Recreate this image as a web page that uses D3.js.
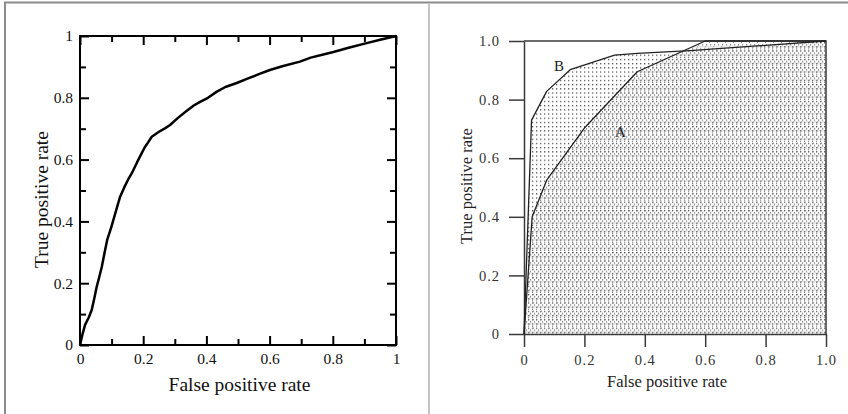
<!DOCTYPE html>
<html>
<head>
<meta charset="utf-8">
<script src="https://cdnjs.cloudflare.com/ajax/libs/d3/7.8.5/d3.min.js"></script>
<style>
  body { margin: 0; background: #fff; }
  svg { display: block; }
  text { font-family: "Liberation Serif", "Times New Roman", serif; }
</style>
</head>
<body>
<div class="chart"></div>
<script>
// ------------------------------------------------------------------------------------------------------------------
// data
var tick_values = [0, 0.2, 0.4, 0.6, 0.8, 1];
var minor_values = [0.1, 0.3, 0.5, 0.7, 0.9];
var left_tick_labels = ["0", "0.2", "0.4", "0.6", "0.8", "1"];
var right_tick_labels = ["0", "0.2", "0.4", "0.6", "0.8", "1.0"];

// left panel : single ROC curve (false positive rate, true positive rate)
var roc_fpr = [0, 0.008, 0.016, 0.028, 0.037, 0.045, 0.053, 0.061, 0.069, 0.078, 0.086, 0.094, 0.1, 0.11, 0.121,
               0.127, 0.14, 0.152, 0.164, 0.18, 0.195, 0.205, 0.215, 0.227, 0.25, 0.27, 0.285, 0.31, 0.338, 0.36,
               0.38, 0.405, 0.433, 0.46, 0.496, 0.53, 0.57, 0.601, 0.64, 0.696, 0.73, 0.77, 0.802, 0.85, 0.907,
               0.95, 1];
var roc_tpr = [0, 0.035, 0.065, 0.09, 0.113, 0.15, 0.189, 0.22, 0.253, 0.3, 0.34, 0.365, 0.385, 0.42, 0.459,
               0.48, 0.51, 0.535, 0.556, 0.59, 0.62, 0.64, 0.655, 0.674, 0.69, 0.702, 0.712, 0.735, 0.758, 0.775,
               0.787, 0.8, 0.82, 0.835, 0.848, 0.862, 0.878, 0.89, 0.902, 0.917, 0.93, 0.94, 0.948, 0.962, 0.977,
               0.988, 1];

// right panel : curves A and B
var a_fpr = [0, 0.027, 0.075, 0.2, 0.375, 0.6, 1];
var a_tpr = [0, 0.40, 0.525, 0.703, 0.895, 1.0, 1.0];
var b_fpr = [0, 0.025, 0.075, 0.153, 0.3, 0.375, 0.55, 1];
var b_tpr = [0, 0.73, 0.828, 0.902, 0.952, 0.958, 0.967, 1];

function zip(xs, ys) { return xs.map(function(d, i) { return {x: d, y: ys[i]}; }); }

var svg = d3.select(".chart").append("svg")
            .attr("width", 848)
            .attr("height", 414);

// ------------------------------------------------------------------------------------------------------------------
// page frame
svg.append("line").attr("x1", 4).attr("x2", 848).attr("y1", 2.5).attr("y2", 2.5)
   .attr("stroke", "#8c8c8c").attr("stroke-width", 2);
svg.append("line").attr("x1", 5).attr("x2", 5).attr("y1", 2).attr("y2", 414)
   .attr("stroke", "#8c8c8c").attr("stroke-width", 2);
svg.append("line").attr("x1", 429).attr("x2", 429).attr("y1", 3).attr("y2", 414)
   .attr("stroke", "#c4c4c4").attr("stroke-width", 2);

// ------------------------------------------------------------------------------------------------------------------
// left panel
function generate_left()
{
    var x = d3.scaleLinear().domain([0, 1]).range([80, 396]);
    var y = d3.scaleLinear().domain([0, 1]).range([345, 36]);
    var g = svg.append("g");

    function style_axis(sel) {
        sel.select(".domain").remove();
        sel.selectAll(".tick line").attr("stroke", "#000").attr("stroke-width", 2);
        sel.selectAll("text").attr("fill", "#111").style("font-size", "15.5px")
           .style("font-family", "'Liberation Serif', serif");
    }

    // inward major + minor ticks on all four sides
    [["bottom", y(0)], ["top", y(1)]].forEach(function(s) {
        var maj = (s[0] == "bottom" ? d3.axisBottom(x) : d3.axisTop(x)).tickValues(tick_values).tickSize(-9);
        var mnr = (s[0] == "bottom" ? d3.axisBottom(x) : d3.axisTop(x)).tickValues(minor_values).tickSize(-6).tickFormat("");
        if (s[0] == "bottom") maj.tickPadding(8).tickFormat(function(d, i) { return left_tick_labels[i]; });
        else maj.tickFormat("");
        g.append("g").attr("transform", "translate(0," + s[1] + ")").call(maj).call(style_axis);
        g.append("g").attr("transform", "translate(0," + s[1] + ")").call(mnr).call(style_axis);
    });
    [["left", x(0)], ["right", x(1)]].forEach(function(s) {
        var maj = (s[0] == "left" ? d3.axisLeft(y) : d3.axisRight(y)).tickValues(tick_values).tickSize(-9);
        var mnr = (s[0] == "left" ? d3.axisLeft(y) : d3.axisRight(y)).tickValues(minor_values).tickSize(-6).tickFormat("");
        if (s[0] == "left") maj.tickPadding(7).tickFormat(function(d, i) { return left_tick_labels[i]; });
        else maj.tickFormat("");
        g.append("g").attr("transform", "translate(" + s[1] + ",0)").call(maj).call(style_axis);
        g.append("g").attr("transform", "translate(" + s[1] + ",0)").call(mnr).call(style_axis);
    });

    g.append("rect")
     .attr("x", x(0)).attr("y", y(1))
     .attr("width", x(1) - x(0)).attr("height", y(0) - y(1))
     .attr("fill", "none").attr("stroke", "#000").attr("stroke-width", 2);

    // the curve
    var line = d3.line().x(function(d) { return x(d.x); }).y(function(d) { return y(d.y); });
    g.append("path")
     .datum(zip(roc_fpr, roc_tpr))
     .attr("d", line)
     .attr("fill", "none").attr("stroke", "#000").attr("stroke-width", 2.5)
     .attr("stroke-linejoin", "round");

    // axis titles
    g.append("text").attr("x", 239.5).attr("y", 391).attr("text-anchor", "middle")
     .attr("fill", "#111").style("font-size", "19.5px").text("False positive rate");
    g.append("text").attr("transform", "translate(48,199.5) rotate(-90)").attr("text-anchor", "middle")
     .attr("fill", "#111").style("font-size", "19.5px").text("True positive rate");
}

// ------------------------------------------------------------------------------------------------------------------
// right panel
function generate_right()
{
    var x = d3.scaleLinear().domain([0, 1]).range([524, 826]);
    var y = d3.scaleLinear().domain([0, 1]).range([334, 41]);
    var g = svg.append("g");
    var ink = "#3a3a3a";

    // dotted fills
    var defs = svg.append("defs");
    var pb = defs.append("pattern").attr("id", "dotsB").attr("patternUnits", "userSpaceOnUse")
                 .attr("width", 4).attr("height", 4.2);
    pb.append("rect").attr("x", 0).attr("y", 0).attr("width", 1.3).attr("height", 1.3).attr("fill", "#555");
    var pa = defs.append("pattern").attr("id", "dotsA").attr("patternUnits", "userSpaceOnUse")
                 .attr("width", 8).attr("height", 8.4);
    pa.append("rect").attr("x", 2).attr("y", 2.1).attr("width", 1.2).attr("height", 1.2).attr("fill", "#666");
    pa.append("rect").attr("x", 6).attr("y", 2.1).attr("width", 1.2).attr("height", 1.2).attr("fill", "#777");
    pa.append("rect").attr("x", 4).attr("y", 6.3).attr("width", 1.2).attr("height", 1.2).attr("fill", "#666");
    pa.append("rect").attr("x", 0).attr("y", 6.3).attr("width", 1.2).attr("height", 1.2).attr("fill", "#888");
    pa.append("rect").attr("x", 1).attr("y", 4.2).attr("width", 1).attr("height", 1).attr("fill", "#888");
    pa.append("rect").attr("x", 5).attr("y", 0).attr("width", 1).attr("height", 1).attr("fill", "#888");
    pa.append("rect").attr("x", 0).attr("y", 4.4).attr("width", 8).attr("height", 0.5).attr("fill", "#aaa");

    var area = d3.area().x(function(d) { return x(d.x); })
                 .y0(y(0)).y1(function(d) { return y(d.y); });
    g.append("path").datum(zip(b_fpr, b_tpr)).attr("d", area).attr("fill", "url(#dotsB)");
    g.append("path").datum(zip(a_fpr, a_tpr)).attr("d", area).attr("fill", "url(#dotsA)");

    function style_axis(sel) {
        sel.select(".domain").attr("stroke", ink).attr("stroke-width", 1.5);
        sel.selectAll(".tick line").attr("stroke", ink).attr("stroke-width", 1.5);
        sel.selectAll("text").attr("fill", "#333").style("font-size", "14.5px")
           .style("letter-spacing", "1px")
           .style("font-family", "'Liberation Serif', serif");
    }

    g.append("g").attr("transform", "translate(0," + y(0) + ")")
     .call(d3.axisBottom(x).tickValues(tick_values).tickSize(13).tickSizeOuter(0).tickPadding(8)
             .tickFormat(function(d, i) { return right_tick_labels[i]; }))
     .call(style_axis);
    g.append("g").attr("transform", "translate(" + x(0) + ",0)")
     .call(d3.axisLeft(y).tickValues(tick_values).tickSize(15).tickSizeOuter(0).tickPadding(9)
             .tickFormat(function(d, i) { return right_tick_labels[i]; }))
     .call(style_axis);

    // top and right frame
    g.append("path")
     .attr("d", "M" + x(0) + "," + y(1) + "H" + x(1) + "V" + y(0))
     .attr("fill", "none").attr("stroke", ink).attr("stroke-width", 1.5);

    // curves
    var line = d3.line().x(function(d) { return x(d.x); }).y(function(d) { return y(d.y); });
    [zip(a_fpr, a_tpr), zip(b_fpr, b_tpr)].forEach(function(c) {
        g.append("path").datum(c).attr("d", line)
         .attr("fill", "none").attr("stroke", "#222").attr("stroke-width", 1.3)
         .attr("stroke-linejoin", "round");
    });

    // curve labels
    g.append("text").attr("x", 559).attr("y", 71).attr("text-anchor", "middle")
     .attr("fill", "#222").style("font-size", "15px").text("B");
    g.append("text").attr("x", 620.5).attr("y", 137).attr("text-anchor", "middle")
     .attr("fill", "#222").style("font-size", "15px").text("A");

    // axis titles
    g.append("text").attr("x", 667).attr("y", 386.5).attr("text-anchor", "middle")
     .attr("fill", "#222").style("font-size", "16.5px").text("False positive rate");
    g.append("text").attr("transform", "translate(472,186) rotate(-90)").attr("text-anchor", "middle")
     .attr("fill", "#222").style("font-size", "16.5px").text("True positive rate");
}

generate_left();
generate_right();
</script>
</body>
</html>
